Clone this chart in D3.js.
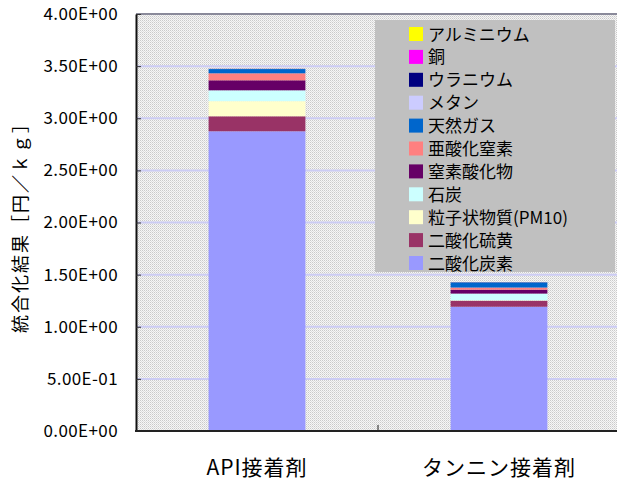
<!DOCTYPE html>
<html><head><meta charset="utf-8">
<script src="https://cdn.jsdelivr.net/npm/d3@7/dist/d3.min.js"></script>
<style>
body{margin:0;background:#fff;}
svg text{font-family:"Noto Sans CJK JP","Liberation Sans",sans-serif;fill:#000;}
</style></head>
<body><svg id="chart" width="617" height="483"></svg>
<script>
// Categories (x axis)
const categories = ["API接着剤", "タンニン接着剤"];
// Series, stacked bottom to top
const seriesNames = ["二酸化炭素", "二酸化硫黄", "粒子状物質(PM10)", "石炭", "窒素酸化物", "亜酸化窒素", "天然ガス", "メタン", "ウラニウム", "銅", "アルミニウム"];
const seriesColors = ["#9999ff", "#993366", "#ffffcc", "#ccffff", "#660066", "#ff8080", "#0066cc", "#ccccff", "#000080", "#ff00ff", "#ffff00"];
// Values per series: [API接着剤, タンニン接着剤]
const co2 = [2.875, 1.192];
const so2 = [0.144, 0.058];
const pm10 = [0.145, 0.004];
const coal = [0.104, 0.064];
const nox = [0.096, 0.038];
const n2o = [0.067, 0.020];
const natGas = [0.041, 0.050];
const methane = [0.002, 0.001];
const uranium = [0.001, 0.001];
const copper = [0.0005, 0.0005];
const aluminium = [0.0005, 0.0005];
const seriesValues = [co2, so2, pm10, coal, nox, n2o, natGas, methane, uranium, copper, aluminium];
// Axis tick labels
const yTicks = [0, 0.5, 1.0, 1.5, 2.0, 2.5, 3.0, 3.5, 4.0];
const yTickLabels = ["0.00E+00", "5.00E-01", "1.00E+00", "1.50E+00", "2.00E+00", "2.50E+00", "3.00E+00", "3.50E+00", "4.00E+00"];
const yTitle = "統合化結果［円／ｋｇ］";

const svg = d3.select("#chart");
const plotL = 136, plotR = 620, plotT = 14, plotB = 431;

// Fine dotted fill for the plot background
const defs = svg.append("defs");
const pat = defs.append("pattern").attr("id", "dots").attr("width", 2).attr("height", 2).attr("patternUnits", "userSpaceOnUse");
pat.append("rect").attr("width", 2).attr("height", 2).attr("fill", "#f6f6f6");
pat.append("rect").attr("x", 0).attr("y", 0).attr("width", 1).attr("height", 1).attr("fill", "#cacaca");
pat.append("rect").attr("x", 1).attr("y", 1).attr("width", 1).attr("height", 1).attr("fill", "#dedede");

const x = d3.scaleBand().domain(categories).range([plotL, plotR]).paddingInner(0.6).paddingOuter(0.3);
const y = d3.scaleLinear().domain([0, 4]).range([plotB, plotT]);

svg.append("rect").attr("x", plotL).attr("y", plotT).attr("width", plotR - plotL).attr("height", plotB - plotT).attr("fill", "url(#dots)");

// Gridlines
svg.append("g").selectAll("line").data(yTicks.filter(d => d > 0 && d < 4)).join("line")
  .attr("x1", plotL).attr("x2", plotR).attr("y1", d => y(d)).attr("y2", d => y(d))
  .attr("stroke", "#ccccf4").attr("stroke-width", 2);

// Top border of plot
svg.append("line").attr("x1", plotL).attr("x2", plotR).attr("y1", plotT).attr("y2", plotT)
  .attr("stroke", "#8a8a9a").attr("stroke-width", 2);

// Stacked bars
const table = categories.map((c, i) => {
  const row = { cat: c };
  seriesNames.forEach((s, k) => row[s] = seriesValues[k][i]);
  return row;
});
const stacked = d3.stack().keys(seriesNames)(table);
svg.append("g").selectAll("g").data(stacked).join("g")
  .attr("fill", (d, i) => seriesColors[i])
  .selectAll("rect").data(d => d).join("rect")
  .attr("x", d => x(d.data.cat))
  .attr("width", x.bandwidth())
  .attr("y", d => y(d[1]))
  .attr("height", d => y(d[0]) - y(d[1]));

// Y axis (ticks inside the plot)
const yAxis = d3.axisLeft(y).tickValues(yTicks).tickSizeInner(-5).tickSizeOuter(0)
  .tickFormat((d, i) => yTickLabels[i]).tickPadding(18);
const gy = svg.append("g").attr("transform", `translate(${plotL},0)`).call(yAxis);
gy.select(".domain").attr("stroke", "#111").attr("stroke-width", 2);
gy.selectAll(".tick line").attr("stroke", "#333");
gy.selectAll(".tick text").attr("font-family", "Liberation Sans, Arial, sans-serif")
  .attr("font-size", 17).attr("letter-spacing", "0.4px").attr("fill", "#000");

// X axis line with divider tick between categories
svg.append("line").attr("x1", plotL - 1).attr("x2", plotR).attr("y1", plotB).attr("y2", plotB)
  .attr("stroke", "#222").attr("stroke-width", 2);
const mid = (x(categories[0]) + x.bandwidth() + x(categories[1])) / 2;
svg.append("line").attr("x1", mid).attr("x2", mid).attr("y1", plotB).attr("y2", plotB - 6)
  .attr("stroke", "#222").attr("stroke-width", 1);
svg.append("g").selectAll("text").data(categories).join("text")
  .attr("x", d => x(d) + x.bandwidth() / 2).attr("y", 475)
  .attr("text-anchor", "middle").attr("font-size", 21).attr("letter-spacing", "1px")
  .text(d => d);

// Y axis title
svg.append("text").attr("transform", `translate(27,223) rotate(-90)`)
  .attr("text-anchor", "middle").attr("font-size", 18).attr("letter-spacing", "2px")
  .text(yTitle);

// Legend (reverse stacking order, top to bottom)
const lg = svg.append("g");
lg.append("rect").attr("x", 375).attr("y", 20).attr("width", 240).attr("height", 252).attr("fill", "#c0c0c0");
const legendItems = seriesNames.map((s, i) => ({ name: s, color: seriesColors[i] })).reverse();
const li = lg.selectAll("g").data(legendItems).join("g")
  .attr("transform", (d, i) => `translate(409,${34 + i * 22.9})`);
li.append("rect").attr("x", 0).attr("y", -7).attr("width", 14).attr("height", 14).attr("fill", d => d.color);
li.append("text").attr("x", 19).attr("y", 6.5).attr("font-size", 17).text(d => d.name);
</script></body></html>
